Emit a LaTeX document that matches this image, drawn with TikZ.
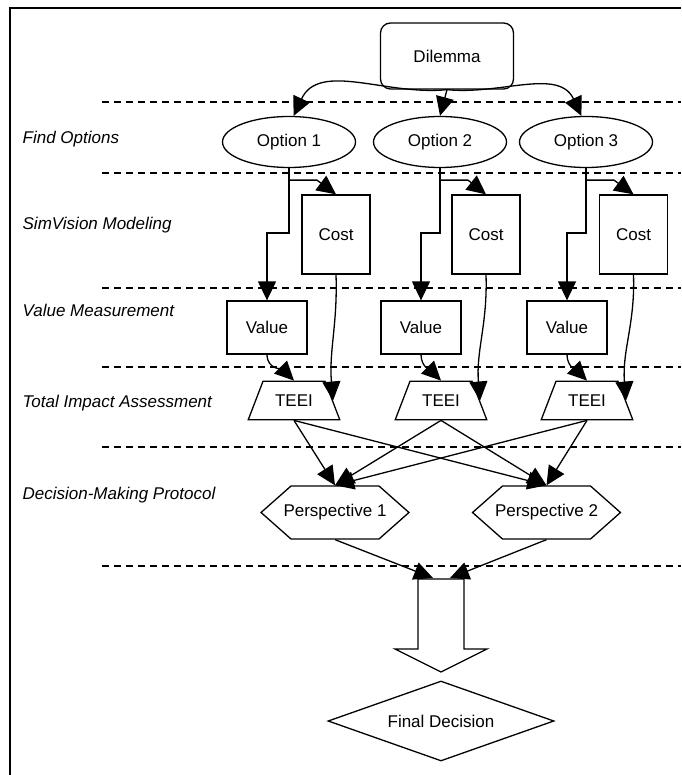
\documentclass[tikz,border=0pt]{standalone}
\usepackage{fontspec}
\setmainfont{Liberation Sans}
\usetikzlibrary{shapes,arrows,arrows.meta}

\begin{document}
\begin{tikzpicture}[x=1pt,y=1pt]
\tikzstyle{every path}=[line width=1.3pt]
\tikzstyle{every node}=[font=\fontsize{17}{20}\selectfont]

\tikzstyle{lane}=[dash pattern=on 7pt off 5pt]
\tikzstyle{flow}=[-{Triangle[length=19pt,width=18pt]}]
\tikzstyle{phase}=[anchor=west,inner sep=0pt,font=\fontsize{17}{20}\selectfont\itshape]
\tikzstyle{dilnode}=[draw,rounded corners=10pt,minimum width=133pt,minimum height=66pt]
\tikzstyle{optnode}=[draw,ellipse,minimum width=133pt,minimum height=51pt,inner sep=0pt]
\tikzstyle{costnode}=[draw,minimum width=68pt,minimum height=79pt]
\tikzstyle{valnode}=[draw,minimum width=80pt,minimum height=53pt]
\tikzstyle{teeinode}=[draw,trapezium,trapezium left angle=69,trapezium right angle=69,
  inner xsep=12.1pt,inner ysep=13.4pt]
\tikzstyle{perspnode}=[draw,signal,signal to=west and east,signal pointer angle=83,
  inner xsep=-7.5pt,inner ysep=2pt,minimum height=53pt]
\tikzstyle{finalnode}=[draw,diamond,aspect=2.8,minimum width=226pt,minimum height=80pt,inner sep=0pt]

\useasboundingbox (0,0) rectangle (681,-775);

% frame
\draw[line width=1.8pt] (10,-775) -- (10,-8) -- (681,-8);

% lanes
\draw[lane] (102,-102) -- (681,-102);
\draw[lane] (102,-173) -- (681,-173);
\draw[lane] (102,-288) -- (681,-288);
\draw[lane] (102,-367) -- (681,-367);
\draw[lane] (102,-447) -- (681,-447);
\draw[lane] (102,-566) -- (681,-566);

\node[phase] (lfind) at (22,-139) {Find Options};
\node[phase] (lsim) at (22,-225) {SimVision Modeling};
\node[phase] (lval) at (22,-310) {Value Measurement};
\node[phase] (ltot) at (22,-403) {Total Impact Assessment};
\node[phase] (ldec) at (22,-495) {Decision-Making Protocol};

\node[dilnode] (dil) at (447,-56) {Dilemma};

\node[optnode] (o1) at (289,-142) {Option 1};
\node[optnode] (o2) at (440,-142) {Option 2};
\node[optnode] (o3) at (586,-142) {Option 3};

\node[costnode] (c1) at (336,-234.5) {Cost};
\node[costnode] (c2) at (486,-234.5) {Cost};
\node[costnode] (c3) at (633.5,-234.5) {Cost};

\node[valnode] (v1) at (267,-327.5) {Value};
\node[valnode] (v2) at (421,-327.5) {Value};
\node[valnode] (v3) at (567,-327.5) {Value};

\node[teeinode] (t1) at (294,-400.5) {TEEI};
\node[teeinode] (t2) at (441,-400.5) {TEEI};
\node[teeinode] (t3) at (587,-400.5) {TEEI};

\node[perspnode] (p1) at (335,-512.5) {Perspective 1};
\node[perspnode] (p2) at (546.5,-512.5) {Perspective 2};

\node[finalnode] (fin) at (441,-721) {Final Decision};

% big block arrow
\draw (418,-579) -- (464,-579) -- (464,-649) -- (487,-649) -- (441,-672)
  -- (395,-649) -- (418,-649) -- cycle;
\coordinate (bigl) at (433,-578);
\coordinate (bigr) at (450,-578);

\draw[flow] (dil.south) to[out=186,in=65] (o1.80);
\draw[flow] (dil.south) -- (o2.north);
\draw[flow] (dil.south) to[out=-6,in=115] (o3.100);

\draw[flow] (o1.south) -- ++(0,-12) -- ++(28,0) -- (c1.north);
\draw[flow] (o2.south) -- ++(0,-12) -- ++(28,0) -- (c2.north);
\draw[flow] (o3.south) -- ++(0,-12) -- ++(28,0) -- (c3.north);

\draw[flow] (o1.south) -- ++(0,-65) -| (v1.north);
\draw[flow] (o2.south) -- ++(0,-65) -| (v2.north);
\draw[flow] (o3.south) -- ++(0,-65) -| (v3.north);

\draw[flow] (v1.south) to[out=-90,in=135] (t1.north);
\draw[flow] (v2.south) to[out=-90,in=135] (t2.north);
\draw[flow] (v3.south) to[out=-90,in=135] (t3.north);

\draw[flow] (c1.south) to[out=-88,in=95] (t1.east);
\draw[flow] (c2.south) to[out=-88,in=95] (t2.east);
\draw[flow] (c3.south) to[out=-88,in=95] (t3.east);

\draw[flow] (t1.south) -- (p1.north);
\draw[flow] (t1.south) -- (p2.north);
\draw[flow] (t2.south) -- (p1.north);
\draw[flow] (t2.south) -- (p2.north);
\draw[flow] (t3.south) -- (p1.north);
\draw[flow] (t3.south) -- (p2.north);

\draw[flow] (p1.south) -- (bigl);
\draw[flow] (p2.south) -- (bigr);
\end{tikzpicture}
\end{document}
